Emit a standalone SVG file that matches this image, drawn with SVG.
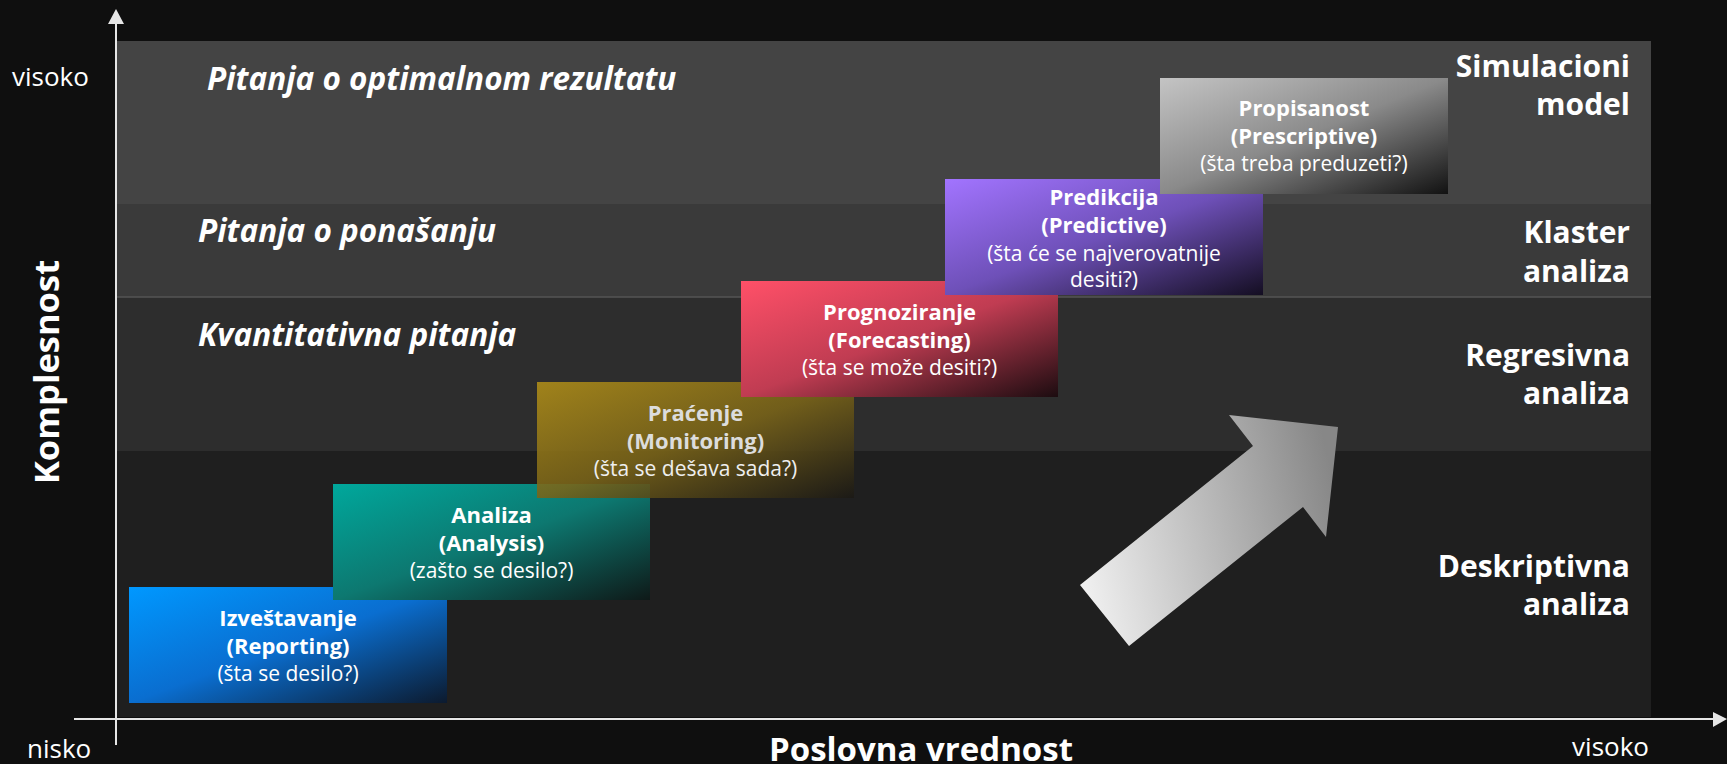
<svg xmlns="http://www.w3.org/2000/svg" width="1727" height="764" viewBox="0 0 1727 764">
<style>
.band-t{font-family:"Open Sans","Noto Sans",sans-serif;font-weight:bold;font-style:italic;font-size:31.5px;fill:#fff}
.rl{font-family:"Open Sans","Noto Sans",sans-serif;font-weight:bold;font-size:30px;fill:#fff;text-anchor:end}
.ax{font-family:"Open Sans","Noto Sans",sans-serif;font-size:26px;fill:#fff}
.axb{font-family:"Open Sans","Noto Sans",sans-serif;font-weight:bold;font-size:33px;fill:#fff;text-anchor:middle}
.t{font-family:"Open Sans","Noto Sans",sans-serif;font-weight:bold;font-size:22px;fill:#fff;text-anchor:middle}
.s{font-family:"Open Sans","Noto Sans",sans-serif;font-size:21px;fill:#fff;text-anchor:middle}
.axis{stroke:#e6e6e6;stroke-width:2;fill:none}
</style>
<defs>
<linearGradient id="gBlue" x1="0" y1="0" x2="1" y2="1"><stop offset="0" stop-color="#0098ff"/><stop offset="0.5" stop-color="#0a6ed0"/><stop offset="1" stop-color="#0c1a2e"/></linearGradient>
<linearGradient id="gTeal" x1="0" y1="0" x2="1" y2="1"><stop offset="0" stop-color="#00a89c"/><stop offset="0.5" stop-color="#0d7870"/><stop offset="1" stop-color="#0e1918"/></linearGradient>
<linearGradient id="gGold" x1="0" y1="0" x2="1" y2="1"><stop offset="0" stop-color="#b08e18"/><stop offset="0.5" stop-color="#7a6418"/><stop offset="1" stop-color="#1b1915"/></linearGradient>
<linearGradient id="gRed" x1="0" y1="0" x2="1" y2="1"><stop offset="0" stop-color="#ff5068"/><stop offset="0.5" stop-color="#c03c52"/><stop offset="1" stop-color="#1c0c10"/></linearGradient>
<linearGradient id="gPurple" x1="0" y1="0" x2="1" y2="1"><stop offset="0" stop-color="#a274ff"/><stop offset="0.5" stop-color="#6e50b8"/><stop offset="1" stop-color="#140e22"/></linearGradient>
<linearGradient id="gGray" x1="0" y1="0" x2="1" y2="1"><stop offset="0" stop-color="#c4c4c4"/><stop offset="0.5" stop-color="#8a8a8a"/><stop offset="1" stop-color="#121212"/></linearGradient>
<linearGradient id="gArrow" gradientUnits="userSpaceOnUse" x1="1080" y1="560" x2="1338" y2="500"><stop offset="0" stop-color="#efefef"/><stop offset="1" stop-color="#878787"/></linearGradient>
</defs>
<rect x="0" y="0" width="1727" height="764" fill="#0f0f0f"/>
<g id="bands">
<rect x="116" y="41" width="1535" height="163" fill="#444444"/>
<rect x="116" y="204" width="1535" height="93" fill="#3a3a3a"/>
<rect x="116" y="297" width="1535" height="154" fill="#2d2d2d"/>
<rect x="116" y="451" width="1535" height="266" fill="#1f1f1f"/>
<line x1="116" y1="297" x2="1651" y2="297" stroke="#555" stroke-width="1.5"/>
<text class="band-t" x="207" y="90">Pitanja o optimalnom rezultatu</text>
<text class="band-t" x="198" y="242">Pitanja o ponašanju</text>
<text class="band-t" x="198" y="346">Kvantitativna pitanja</text>
<text class="rl" x="1630" y="77">Simulacioni</text>
<text class="rl" x="1630" y="115">model</text>
<text class="rl" x="1630" y="243">Klaster</text>
<text class="rl" x="1630" y="282">analiza</text>
<text class="rl" x="1630" y="366">Regresivna</text>
<text class="rl" x="1630" y="404">analiza</text>
<text class="rl" x="1630" y="577">Deskriptivna</text>
<text class="rl" x="1630" y="615">analiza</text>
</g>
<g id="connectors">
<line class="axis" x1="116" y1="745" x2="116" y2="22"/>
<polygon points="116,9 108,24 124,24" fill="#e6e6e6"/>
<line class="axis" x1="74" y1="719" x2="1714" y2="719"/>
<polygon points="1727,719 1713,712 1713,727" fill="#e6e6e6"/>
</g>
<g id="axis-labels">
<text class="ax" x="12" y="86">visoko</text>
<text class="ax" x="27" y="758">nisko</text>
<text class="ax" x="1649" y="756" text-anchor="end">visoko</text>
<text class="axb" x="921" y="761">Poslovna vrednost</text>
<text class="axb" transform="translate(59,372) rotate(-90)" x="0" y="0" style="font-size:34.5px">Komplesnost</text>
</g>
<g id="big-arrow">
<polygon points="1080,585 1253,446 1229,415 1338,427 1326,537 1303,507 1129,646" fill="url(#gArrow)"/>
</g>
<g id="reporting">
<rect x="129" y="587" width="318" height="116" fill="url(#gBlue)"/>
<text class="t" x="288" y="626">Izveštavanje</text>
<text class="t" x="288" y="654">(Reporting)</text>
<text class="s" x="288" y="681">(šta se desilo?)</text>
</g>
<g id="analysis">
<rect x="333" y="484" width="317" height="116" fill="url(#gTeal)"/>
<text class="t" x="491.5" y="523">Analiza</text>
<text class="t" x="491.5" y="551">(Analysis)</text>
<text class="s" x="491.5" y="578">(zašto se desilo?)</text>
</g>
<g id="monitoring">
<rect x="537" y="382" width="317" height="116" fill="url(#gGold)" opacity="0.88"/>
<text class="t" x="695.5" y="421" style="fill:#dcdcdc">Praćenje</text>
<text class="t" x="695.5" y="449" style="fill:#dcdcdc">(Monitoring)</text>
<text class="s" x="695.5" y="476" style="fill:#eeeeee">(šta se dešava sada?)</text>
</g>
<g id="forecasting">
<rect x="741" y="281" width="317" height="116" fill="url(#gRed)"/>
<text class="t" x="899.5" y="320">Prognoziranje</text>
<text class="t" x="899.5" y="348">(Forecasting)</text>
<text class="s" x="899.5" y="375">(šta se može desiti?)</text>
</g>
<g id="predictive">
<rect x="945" y="179" width="318" height="116" fill="url(#gPurple)"/>
<text class="t" x="1104" y="205">Predikcija</text>
<text class="t" x="1104" y="233">(Predictive)</text>
<text class="s" x="1104" y="261">(šta će se najverovatnije</text>
<text class="s" x="1104" y="287">desiti?)</text>
</g>
<g id="prescriptive">
<rect x="1160" y="78" width="288" height="116" fill="url(#gGray)"/>
<text class="t" x="1304" y="116">Propisanost</text>
<text class="t" x="1304" y="144">(Prescriptive)</text>
<text class="s" x="1304" y="171">(šta treba preduzeti?)</text>
</g>
</svg>
